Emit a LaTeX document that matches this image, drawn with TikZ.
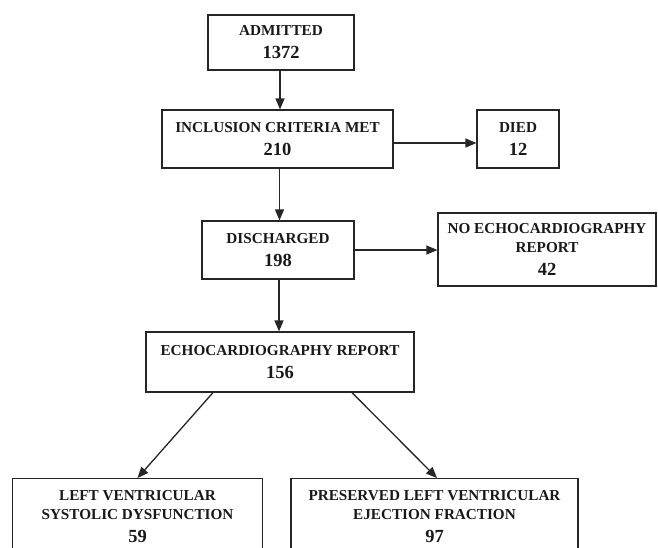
\documentclass[tikz,border=0pt]{standalone}
\usepackage{fontspec}
\setmainfont{Liberation Serif}
\usetikzlibrary{arrows.meta}

\newcommand{\cnt}[1]{{\fontsize{18.5}{22}\selectfont #1}}

\begin{document}
\begin{tikzpicture}[x=1pt,y=-1pt,
  box/.style={draw=black!85,line width=1.2pt,align=center,inner sep=0pt,
    text=black!90,font=\bfseries\fontsize{15.2}{19}\selectfont},
  arr/.style={-{Triangle[length=11pt,width=9pt]},draw=black!85,line width=1.3pt}]
  \useasboundingbox (0,0) rectangle (658,547);
  \clip (0,0) rectangle (658,547);

  % Boxes
  \node[box,minimum width=146pt,minimum height=55pt] (adm) at (281,42.5) {ADMITTED\\[4pt]\cnt{1372}};
  \node[box,minimum width=231pt,minimum height=58pt] (inc) at (277.5,139) {INCLUSION CRITERIA MET\\[4pt]\cnt{210}};
  \node[box,minimum width=82pt,minimum height=58pt] (died) at (518,139) {DIED\\[4pt]\cnt{12}};
  \node[box,minimum width=152pt,minimum height=58pt] (dis) at (278,250) {DISCHARGED\\[4pt]\cnt{198}};
  \node[box,minimum width=218pt,minimum height=73pt] (noecho) at (547,249.5) {NO ECHOCARDIOGRAPHY\\REPORT\\[4pt]\cnt{42}};
  \node[box,minimum width=268pt,minimum height=60pt] (echo) at (280,362) {ECHOCARDIOGRAPHY REPORT\\[4pt]\cnt{156}};
  \node[box,anchor=north,minimum width=250pt,inner ysep=12pt] (lvsd) at (137.5,478) {LEFT VENTRICULAR\\SYSTOLIC DYSFUNCTION\\[4pt]\cnt{59}};
  \node[box,anchor=north,minimum width=287pt,inner ysep=12pt] (pres) at (434.5,478) {PRESERVED LEFT VENTRICULAR\\EJECTION FRACTION\\[4pt]\cnt{97}};

  % Arrows
  \draw[arr] ([xshift=-1pt]adm.south) -- ([xshift=-1pt]adm.south |- inc.north);
  \draw[arr] ([yshift=-4pt]inc.east) -- ([yshift=-4pt]inc.east -| died.west);
  \draw[arr] ([xshift=2pt]inc.south) -- ([xshift=2pt]inc.south |- dis.north);
  \draw[arr] (dis.east) -- (dis.east -| noecho.west);
  \draw[arr] ([xshift=1pt]dis.south) -- ([xshift=1pt]dis.south |- echo.north);
  \draw[arr] ([xshift=-67pt]echo.south) -- (lvsd.north);
  \draw[arr] ([xshift=72pt]echo.south) -- ([xshift=2.5pt]pres.north);
\end{tikzpicture}
\end{document}
